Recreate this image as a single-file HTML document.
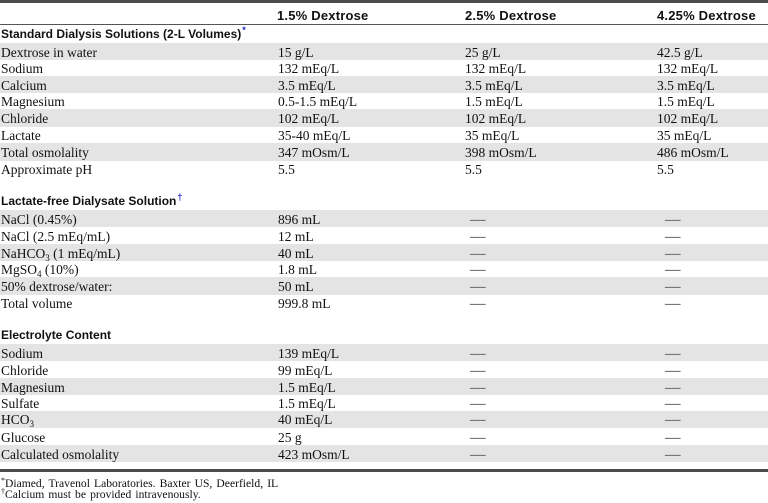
<!DOCTYPE html>
<html>
<head>
<meta charset="utf-8">
<style>
  html,body{margin:0;padding:0;background:#fff;}
  body{width:768px;height:503px;position:relative;overflow:hidden;color:#111;
       font-family:"Liberation Serif","Times New Roman",serif;}
  .bar{position:absolute;left:0;width:768px;background:#4b4b4b;}
  .rule{position:absolute;left:0;width:768px;height:1px;background:#555;}
  .hd{position:absolute;top:9px;font-family:"Liberation Sans",Arial,sans-serif;font-weight:bold;
      font-size:13px;line-height:13px;letter-spacing:0.2px;white-space:nowrap;color:#111;}
  .sec{position:absolute;left:1px;z-index:5;font-family:"Liberation Sans",Arial,sans-serif;font-weight:bold;
       font-size:12px;line-height:12px;white-space:nowrap;color:#111;}
  .sec sup{color:#2222cc;font-size:9px;line-height:0;vertical-align:baseline;position:relative;top:-5px;margin-left:1px;}
  .row{position:absolute;left:0;width:768px;height:17.3px;}
  .sh{background:#e4e4e4;}
  .row span{position:absolute;top:0.6px;line-height:17px;font-size:13.5px;white-space:nowrap;}
  .c0{left:1px;}
  .c1{left:278px;}
  .c2{left:465px;}
  .c3{left:657px;}
  .row span.d{font-size:15.5px;color:#777;font-weight:bold;}
  .d2{left:470px;}
  .d3{left:665px;}
  .row sub{font-size:9px;line-height:0;vertical-align:baseline;position:relative;top:3px;}
  .fn{position:absolute;left:1px;font-size:11.6px;line-height:12px;white-space:nowrap;word-spacing:1.2px;}
  .fn sup{font-size:8px;line-height:0;vertical-align:baseline;position:relative;top:-4px;}
</style>
</head>
<body>
<div class="bar" style="top:0;height:3px;"></div>

<div class="hd" style="left:277px;">1.5% Dextrose</div>
<div class="hd" style="left:465px;">2.5% Dextrose</div>
<div class="hd" style="left:657px;">4.25% Dextrose</div>
<div class="rule" style="top:24px;"></div>

<div class="sec" style="top:27.5px;">Standard Dialysis Solutions (2-L Volumes)<sup>*</sup></div>

<div class="row sh" style="top:43px;"><span class="c0">Dextrose in water</span><span class="c1">15 g/L</span><span class="c2">25 g/L</span><span class="c3">42.5 g/L</span></div>
<div class="row" style="top:59.8px;"><span class="c0">Sodium</span><span class="c1">132 mEq/L</span><span class="c2">132 mEq/L</span><span class="c3">132 mEq/L</span></div>
<div class="row sh" style="top:76px;"><span class="c0">Calcium</span><span class="c1">3.5 mEq/L</span><span class="c2">3.5 mEq/L</span><span class="c3">3.5 mEq/L</span></div>
<div class="row" style="top:92.9px;"><span class="c0">Magnesium</span><span class="c1">0.5-1.5 mEq/L</span><span class="c2">1.5 mEq/L</span><span class="c3">1.5 mEq/L</span></div>
<div class="row sh" style="top:109.3px;"><span class="c0">Chloride</span><span class="c1">102 mEq/L</span><span class="c2">102 mEq/L</span><span class="c3">102 mEq/L</span></div>
<div class="row" style="top:126.4px;"><span class="c0">Lactate</span><span class="c1">35-40 mEq/L</span><span class="c2">35 mEq/L</span><span class="c3">35 mEq/L</span></div>
<div class="row sh" style="top:143.3px;"><span class="c0">Total osmolality</span><span class="c1">347 mOsm/L</span><span class="c2">398 mOsm/L</span><span class="c3">486 mOsm/L</span></div>
<div class="row" style="top:160.6px;"><span class="c0">Approximate pH</span><span class="c1">5.5</span><span class="c2">5.5</span><span class="c3">5.5</span></div>

<div class="sec" style="top:195.3px;">Lactate-free Dialysate Solution<sup>†</sup></div>

<div class="row sh" style="top:210px;"><span class="c0">NaCl (0.45%)</span><span class="c1">896 mL</span><span class="d d2">—</span><span class="d d3">—</span></div>
<div class="row" style="top:227px;"><span class="c0">NaCl (2.5 mEq/mL)</span><span class="c1">12 mL</span><span class="d d2">—</span><span class="d d3">—</span></div>
<div class="row sh" style="top:244px;"><span class="c0">NaHCO<sub>3</sub> (1 mEq/mL)</span><span class="c1">40 mL</span><span class="d d2">—</span><span class="d d3">—</span></div>
<div class="row" style="top:260.9px;"><span class="c0">MgSO<sub>4</sub> (10%)</span><span class="c1">1.8 mL</span><span class="d d2">—</span><span class="d d3">—</span></div>
<div class="row sh" style="top:277.3px;"><span class="c0">50% dextrose/water:</span><span class="c1">50 mL</span><span class="d d2">—</span><span class="d d3">—</span></div>
<div class="row" style="top:294.5px;"><span class="c0">Total volume</span><span class="c1">999.8 mL</span><span class="d d2">—</span><span class="d d3">—</span></div>

<div class="sec" style="top:328.8px;">Electrolyte Content</div>

<div class="row sh" style="top:344px;"><span class="c0">Sodium</span><span class="c1">139 mEq/L</span><span class="d d2">—</span><span class="d d3">—</span></div>
<div class="row" style="top:361.5px;"><span class="c0">Chloride</span><span class="c1">99 mEq/L</span><span class="d d2">—</span><span class="d d3">—</span></div>
<div class="row sh" style="top:378px;"><span class="c0">Magnesium</span><span class="c1">1.5 mEq/L</span><span class="d d2">—</span><span class="d d3">—</span></div>
<div class="row" style="top:394.8px;"><span class="c0">Sulfate</span><span class="c1">1.5 mEq/L</span><span class="d d2">—</span><span class="d d3">—</span></div>
<div class="row sh" style="top:410.8px;"><span class="c0">HCO<sub>3</sub></span><span class="c1">40 mEq/L</span><span class="d d2">—</span><span class="d d3">—</span></div>
<div class="row" style="top:428.6px;"><span class="c0">Glucose</span><span class="c1">25 g</span><span class="d d2">—</span><span class="d d3">—</span></div>
<div class="row sh" style="top:445px;"><span class="c0">Calculated osmolality</span><span class="c1">423 mOsm/L</span><span class="d d2">—</span><span class="d d3">—</span></div>

<div class="bar" style="top:469px;height:3px;"></div>

<div class="fn" style="top:477.5px;"><sup>*</sup>Diamed, Travenol Laboratories. Baxter US, Deerfield, IL</div>
<div class="fn" style="top:489px;"><sup>†</sup>Calcium must be provided intravenously.</div>
</body>
</html>
